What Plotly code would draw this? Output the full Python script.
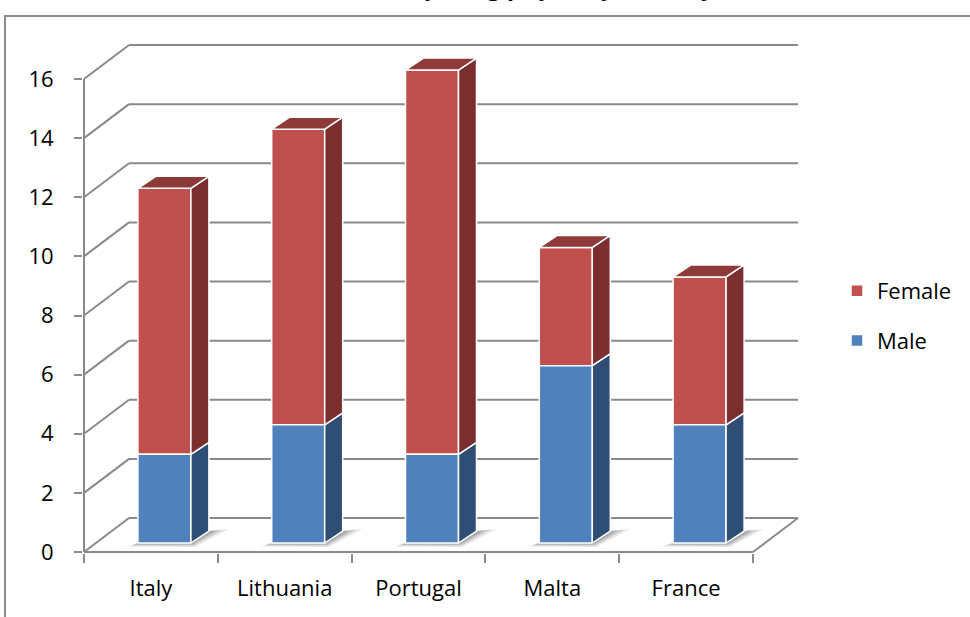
import plotly.graph_objects as go

# ---- data -------------------------------------------------------------
countries = ["Italy", "Lithuania", "Portugal", "Malta", "France"]
male = [3, 4, 3, 6, 4]
female = [9, 10, 13, 4, 5]
y_ticks = [0, 2, 4, 6, 8, 10, 12, 14, 16]
title_text = "Participating pupils by country"

# ---- geometry (pixels) -------------------------------------------------
W, H = 970, 617
L, R, T, B = 83, 165, 40, 64
plot_w = W - L - R
plot_h = H - T - B
PX_CAT = 133.8      # pixels per category
PX_UNIT = 29.56     # pixels per value unit


def cx(px):
    return px / PX_CAT


def vy(px):
    return px / PX_UNIT


x_lo = -0.5 - cx(1)
x_hi = x_lo + cx(plot_w)
y_lo = -vy(1)
y_hi = y_lo + vy(plot_h)

# depth offsets of the 3D box
WALL_DX, WALL_DY = cx(45), vy(34)
FRONT_DX, FRONT_DY = cx(13.5), vy(9)
BAR_W = cx(53)
SIDE_DX, SIDE_DY = cx(18), vy(12)

n = len(countries)
left, right = -0.5, n - 0.5

GRID = dict(color="#8a8a8a", width=2)
FONT = "Open Sans, Lato, sans-serif"

RED, RED_SIDE, RED_TOP = "#C0504D", "#7A2E2D", "#8E3A38"
BLUE, BLUE_SIDE = "#4F81BD", "#2E4E76"

shapes = []

# back wall gridlines and side-wall diagonals
for v in y_ticks:
    shapes.append(dict(type="line", xref="x", yref="y", layer="below",
                       x0=left + WALL_DX, x1=right + WALL_DX,
                       y0=v + WALL_DY, y1=v + WALL_DY, line=GRID))
    shapes.append(dict(type="line", xref="x", yref="y", layer="below",
                       x0=left, x1=left + WALL_DX,
                       y0=v, y1=v + WALL_DY, line=GRID))

# floor front edge, right floor edge, vertical value axis
shapes.append(dict(type="line", xref="x", yref="y", layer="below",
                   x0=left, x1=right, y0=0, y1=0, line=GRID))
shapes.append(dict(type="line", xref="x", yref="y", layer="below",
                   x0=right, x1=right + WALL_DX, y0=0, y1=WALL_DY, line=GRID))
shapes.append(dict(type="line", xref="x", yref="y", layer="below",
                   x0=left, x1=left, y0=0, y1=max(y_ticks), line=GRID))

# soft floor shadows under each column
shadow_layers = [
    (1.0, "rgba(0,0,0,0.09)"),
    (0.7, "rgba(0,0,0,0.12)"),
    (0.4, "rgba(0,0,0,0.15)"),
]
for i in range(n):
    x0 = i + FRONT_DX - BAR_W / 2
    y0 = FRONT_DY
    for s, col in shadow_layers:
        pts_px = [(-11 * s, 3.5 * s), (53 + 4 * s, 4 * s),
                  (53 + 18 + 20 * s, -12 - 2 * s), (53 + 18, -12), (0, 0)]
        pts = [(x0 + cx(px), y0 - vy(py)) for px, py in pts_px]
        path = "M " + " L ".join(f"{a:.5f},{b:.5f}" for a, b in pts) + " Z"
        shapes.append(dict(type="path", xref="x", yref="y", layer="below",
                           path=path, fillcolor=col, line=dict(width=0)))

# outer chart frame
def pxx(px):
    return (px - L) / plot_w


def pxy(py):
    return (H - B - py) / plot_h


shapes.append(dict(type="rect", xref="paper", yref="paper", layer="below",
                   x0=pxx(5), x1=pxx(980), y0=pxy(630), y1=pxy(16),
                   line=dict(color="#8c8c8c", width=2), fillcolor="rgba(0,0,0,0)"))

fig = go.Figure()

# front faces of the stacked columns
centers = [i + FRONT_DX for i in range(n)]
fig.add_trace(go.Bar(
    name="Female", x=centers, y=female,
    base=[FRONT_DY + m for m in male], width=BAR_W,
    marker=dict(color=RED, line=dict(color="white", width=1.5)),
    hoverinfo="skip", legendgroup="f", legendrank=1,
))
fig.add_trace(go.Bar(
    name="Male", x=centers, y=male,
    base=[FRONT_DY] * n, width=BAR_W,
    marker=dict(color=BLUE, line=dict(color="white", width=1.5)),
    hoverinfo="skip", legendgroup="m", legendrank=2,
))


def side_polys(bottoms, tops):
    xs, ys = [], []
    for i, (b, t) in enumerate(zip(bottoms, tops)):
        x1 = i + FRONT_DX + BAR_W / 2
        b += FRONT_DY
        t += FRONT_DY
        xs += [x1, x1 + SIDE_DX, x1 + SIDE_DX, x1, x1, None]
        ys += [b, b + SIDE_DY, t + SIDE_DY, t, b, None]
    return xs, ys


def top_polys(tops):
    xs, ys = [], []
    for i, t in enumerate(tops):
        x0 = i + FRONT_DX - BAR_W / 2
        x1 = x0 + BAR_W
        t += FRONT_DY
        xs += [x0, x1, x1 + SIDE_DX, x0 + SIDE_DX, x0, None]
        ys += [t, t, t + SIDE_DY, t + SIDE_DY, t, None]
    return xs, ys


totals = [m + f for m, f in zip(male, female)]

sx, sy = side_polys([0] * n, male)
fig.add_trace(go.Scatter(x=sx, y=sy, mode="lines", fill="toself",
                         fillcolor=BLUE_SIDE, line=dict(color="white", width=1.5),
                         showlegend=False, hoverinfo="skip"))
sx, sy = side_polys(male, totals)
fig.add_trace(go.Scatter(x=sx, y=sy, mode="lines", fill="toself",
                         fillcolor=RED_SIDE, line=dict(color="white", width=1.5),
                         showlegend=False, hoverinfo="skip"))
tx, ty = top_polys(totals)
fig.add_trace(go.Scatter(x=tx, y=ty, mode="lines", fill="toself",
                         fillcolor=RED_TOP, line=dict(color="white", width=1.5),
                         showlegend=False, hoverinfo="skip"))

fig.update_layout(
    width=W, height=H,
    margin=dict(l=L, r=R, t=T, b=B, autoexpand=False),
    paper_bgcolor="white", plot_bgcolor="white",
    barmode="overlay",
    showlegend=True,
    legend=dict(
        x=pxx(837), xanchor="left", y=pxy(270), yanchor="top",
        font=dict(family=FONT, size=22, color="black"),
        traceorder="grouped", tracegroupgap=18,
        bgcolor="rgba(0,0,0,0)",
    ),
    xaxis=dict(
        range=[x_lo, x_hi], tickvals=list(range(n)), ticktext=countries,
        ticks="", showgrid=False, zeroline=False, showline=False,
        tickfont=dict(family=FONT, size=22, color="black"),
        ticklabelstandoff=20, fixedrange=True,
    ),
    xaxis2=dict(
        range=[x_lo, x_hi], overlaying="x", anchor="y", side="bottom",
        tickvals=[k - 0.5 for k in range(n + 1)], showticklabels=False,
        ticks="outside", ticklen=9, tickwidth=2, tickcolor="#8a8a8a",
        showgrid=False, zeroline=False, showline=False, fixedrange=True,
    ),
    yaxis=dict(
        range=[y_lo, y_hi], tickvals=y_ticks,
        ticks="outside", ticklen=8, tickwidth=2, tickcolor="#8a8a8a",
        showgrid=False, zeroline=False, showline=False,
        tickfont=dict(family=FONT, size=22, color="black"),
        ticklabelstandoff=16, fixedrange=True,
    ),
    shapes=shapes,
    annotations=[dict(
        text=f"<b>{title_text}</b>", xref="paper", yref="paper",
        x=pxx(530), y=pxy(3.9), xanchor="center", yanchor="bottom",
        showarrow=False, font=dict(family=FONT, size=24, color="black"),
    )],
)

# dummy trace to activate the secondary x axis for boundary ticks
fig.add_trace(go.Scatter(x=[None], y=[None], xaxis="x2", showlegend=False,
                         hoverinfo="skip"))

fig.write_html("out.html")
